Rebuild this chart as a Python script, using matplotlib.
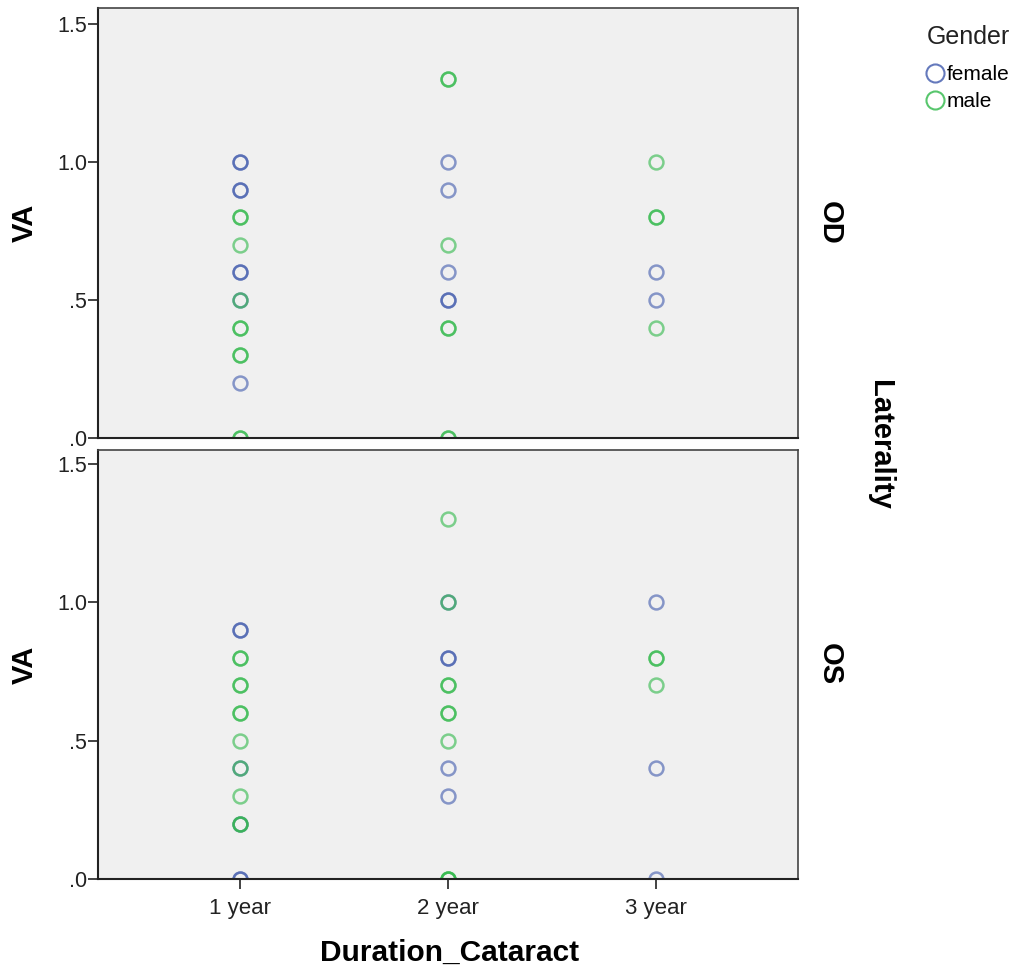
import matplotlib
matplotlib.use("Agg")
import matplotlib.pyplot as plt
from matplotlib.lines import Line2D

plt.rcParams['font.family'] = ['Liberation Sans', 'DejaVu Sans']

categories = ["1 year", "2 year", "3 year"]
panels = ["OD", "OS"]

# (duration index 1..3, VA) per panel and gender; repeated entries = overlapping cases
od_female_x = [1, 1, 1, 1, 1, 1, 1, 1, 2, 2, 2, 2, 2, 3, 3]
od_female_y = [1.0, 1.0, 0.9, 0.9, 0.6, 0.6, 0.5, 0.2, 1.0, 0.9, 0.6, 0.5, 0.5, 0.6, 0.5]
od_male_x = [1, 1, 1, 1, 1, 1, 1, 1, 1, 1, 2, 2, 2, 2, 2, 2, 2, 3, 3, 3, 3]
od_male_y = [0.8, 0.8, 0.7, 0.5, 0.4, 0.4, 0.3, 0.3, 0.0, 0.0,
             1.3, 1.3, 0.7, 0.4, 0.4, 0.0, 0.0, 1.0, 0.8, 0.8, 0.4]

os_female_x = [1, 1, 1, 1, 1, 1, 2, 2, 2, 2, 2, 3, 3, 3]
os_female_y = [0.9, 0.9, 0.4, 0.2, 0.0, 0.0, 1.0, 0.8, 0.8, 0.4, 0.3, 1.0, 0.4, 0.0]
os_male_x = [1, 1, 1, 1, 1, 1, 1, 1, 1, 1, 1, 2, 2, 2, 2, 2, 2, 2, 2, 2, 2, 3, 3, 3]
os_male_y = [0.8, 0.8, 0.7, 0.7, 0.6, 0.6, 0.5, 0.4, 0.3, 0.2, 0.2,
             1.3, 1.0, 0.7, 0.7, 0.6, 0.6, 0.5, 0.0, 0.0, 0.0, 0.8, 0.8, 0.7]

yticks = [0.0, 0.5, 1.0, 1.5]
ytick_labels = [".0", ".5", "1.0", "1.5"]

female_color = "#3E58AC"
male_color = "#2EB848"

W, H = 1015, 969
fig = plt.figure(figsize=(W / 100, H / 100), dpi=100)

def ax_rect(l, t, r, b):
    return [l / W, 1 - b / H, (r - l) / W, (b - t) / H]

ax1 = fig.add_axes(ax_rect(98, 8, 798, 438))
ax2 = fig.add_axes(ax_rect(98, 450, 798, 879))

data = [(ax1, od_female_x, od_female_y, od_male_x, od_male_y, "OD"),
        (ax2, os_female_x, os_female_y, os_male_x, os_male_y, "OS")]

for i, (ax, fx, fy, mx, my, lab) in enumerate(data):
    ax.set_facecolor("#F0F0F0")
    ax.plot(fx, fy, linestyle="none", marker="o", markersize=10, markerfacecolor="none",
            markeredgecolor=female_color, markeredgewidth=1.8, alpha=0.6)
    ax.plot(mx, my, linestyle="none", marker="o", markersize=10, markerfacecolor="none",
            markeredgecolor=male_color, markeredgewidth=1.8, alpha=0.6)
    top = 1.558 if i == 0 else 1.55
    ax.set_ylim(0, top)
    ax.set_xlim(0.316, 3.684)
    ax.set_yticks(yticks)
    ax.set_yticklabels(ytick_labels, fontsize=15.5, color="#222222")
    ax.tick_params(axis="y", direction="out", length=7, width=1.2, color="#222222", pad=1)
    for s in ["top", "right"]:
        ax.spines[s].set_color("#444444")
        ax.spines[s].set_linewidth(1.2)
    for s in ["left", "bottom"]:
        ax.spines[s].set_color("#222222")
        ax.spines[s].set_linewidth(1.5)
    ax.text(-0.105, 0.5, "VA", transform=ax.transAxes, rotation=90, fontsize=21,
            fontweight="bold", ha="center", va="center")
    ax.text(1.045, 0.5, lab, transform=ax.transAxes, rotation=-90, fontsize=21,
            fontweight="bold", ha="center", va="center")
    if i == 0:
        ax.set_xticks([])
    else:
        ax.set_xticks([1, 2, 3])
        ax.set_xticklabels(categories, fontsize=16, color="#222222")
        ax.tick_params(axis="x", direction="out", length=7, width=1.2, color="#222222", pad=7)

fig.text(450 / W, 1 - 953 / H, "Duration_Cataract", fontsize=21.5, fontweight="bold",
         ha="center", va="center")
fig.text(880 / W, 1 - 445 / H, "Laterality", rotation=-90, fontsize=21, fontweight="bold",
         ha="center", va="center")

handles = [Line2D([], [], linestyle="none", marker="o", markersize=13, markerfacecolor="none",
                  markeredgecolor=female_color, markeredgewidth=1.5, alpha=0.8),
           Line2D([], [], linestyle="none", marker="o", markersize=13, markerfacecolor="none",
                  markeredgecolor=male_color, markeredgewidth=1.5, alpha=0.8)]
fig.text(968 / W, 1 - 37 / H, "Gender", fontsize=18, ha="center", va="center", color="#222222")
fig.legend(handles, ["female", "male"], loc="upper left", bbox_to_anchor=(922 / W, 1 - 65 / H),
           frameon=False, fontsize=15, handletextpad=0.0, labelspacing=0.4,
           borderaxespad=0, borderpad=0, handlelength=1.2)

fig.savefig("out.png", dpi=100, facecolor="white")
